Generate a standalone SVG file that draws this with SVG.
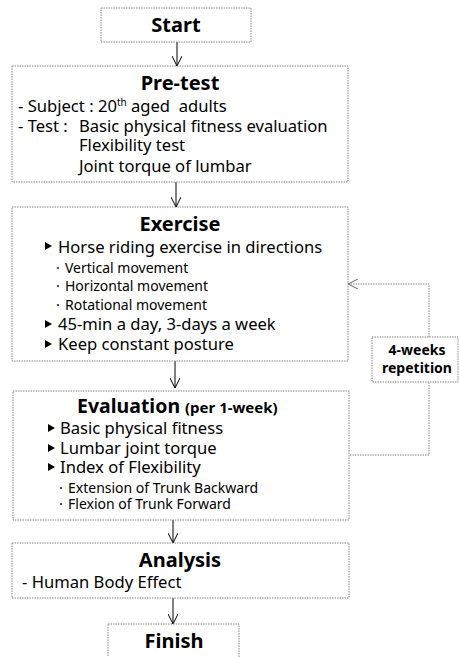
<svg xmlns="http://www.w3.org/2000/svg" width="459" height="657" viewBox="0 0 459 657">
<defs>
<style>
.box{fill:#fff;stroke:#8a8a8a;stroke-width:1;stroke-dasharray:1.5 1}
.t{font-family:"Noto Sans","Open Sans",sans-serif;font-weight:bold;font-size:20px;fill:#000;text-anchor:middle}
.b{font-family:"Noto Sans","Open Sans",sans-serif;font-size:16.6px;fill:#000}
.s{font-family:"Noto Sans","Open Sans",sans-serif;font-size:14px;fill:#000}
.c{fill:none;stroke:#000;stroke-width:1}
.d{fill:none;stroke:#8a8a8a;stroke-width:1;stroke-dasharray:1.5 1}
.tri{fill:#000}
</style>
<marker id="ah" viewBox="0 0 10 10" refX="10" refY="5" markerWidth="10" markerHeight="10" markerUnits="userSpaceOnUse" orient="auto">
<path d="M0,0 L10,5 L0,10" fill="none" stroke="#000" stroke-width="1"/>
</marker>
<marker id="ahg" viewBox="0 0 10 10" refX="10" refY="5" markerWidth="10" markerHeight="10" markerUnits="userSpaceOnUse" orient="auto">
<path d="M0,0 L10,5 L0,10" fill="none" stroke="#666" stroke-width="1"/>
</marker>
</defs>
<rect width="459" height="657" fill="#fff"/>
<g id="connectors">
<line class="c" x1="177" y1="42" x2="177" y2="66" marker-end="url(#ah)"/>
<line class="c" x1="176" y1="182" x2="176" y2="207" marker-end="url(#ah)"/>
<line class="c" x1="175" y1="361" x2="175" y2="388" marker-end="url(#ah)"/>
<line class="c" x1="173" y1="520" x2="173" y2="543" marker-end="url(#ah)"/>
<line class="c" x1="173" y1="598" x2="173" y2="624" marker-end="url(#ah)"/>
<polyline class="d" points="350,455 429,455 429,382"/>
<polyline class="d" points="429,337 429,284 348,284" marker-end="url(#ahg)"/>
</g>
<g id="start">
<rect class="box" x="101" y="8" width="150" height="34"/>
<text class="t" x="176" y="32">Start</text>
</g>
<g id="pretest">
<rect class="box" x="12" y="66" width="336" height="116"/>
<text class="t" x="180" y="90">Pre-test</text>
<text class="b" x="18" y="112">- Subject : 20<tspan font-size="10" dy="-6">th</tspan><tspan dy="6"> aged&#160; adults</tspan></text>
<text class="b" x="18" y="132">- Test : <tspan x="79">Basic physical fitness evaluation</tspan></text>
<text class="b" x="79" y="151">Flexibility test</text>
<text class="b" x="79" y="172">Joint torque of lumbar</text>
</g>
<g id="exercise">
<rect class="box" x="12" y="207" width="336" height="154"/>
<text class="t" x="180" y="231">Exercise</text>
<path class="tri" d="M45,242 L52,246 L45,250 Z"/>
<text class="b" x="58" y="253">Horse riding exercise in directions</text>
<text class="s" x="56" y="273">· <tspan x="65">Vertical movement</tspan></text>
<text class="s" x="56" y="291">· <tspan x="65">Horizontal movement</tspan></text>
<text class="s" x="56" y="310">· <tspan x="65">Rotational movement</tspan></text>
<path class="tri" d="M45,320 L52,324 L45,328 Z"/>
<text class="b" x="58" y="330">45-min a day, 3-days a week</text>
<path class="tri" d="M45,340 L52,344 L45,348 Z"/>
<text class="b" x="58" y="350">Keep constant posture</text>
</g>
<g id="evaluation">
<rect class="box" x="13" y="391" width="336" height="129"/>
<text class="t" x="77" y="413" style="text-anchor:start;font-size:19.5px">Evaluation <tspan x="185" font-size="15">(per 1-week)</tspan></text>
<path class="tri" d="M48,424 L55,428 L48,432 Z"/>
<text class="b" x="60" y="434">Basic physical fitness</text>
<path class="tri" d="M48,444 L55,448 L48,452 Z"/>
<text class="b" x="60" y="454">Lumbar joint torque</text>
<path class="tri" d="M48,463 L55,467 L48,471 Z"/>
<text class="b" x="60" y="473">Index of Flexibility</text>
<text class="s" x="59" y="493">· <tspan x="68">Extension of Trunk Backward</tspan></text>
<text class="s" x="59" y="509">· <tspan x="68">Flexion of Trunk Forward</tspan></text>
</g>
<g id="analysis">
<rect class="box" x="12" y="543" width="337" height="55"/>
<text class="t" x="180" y="567">Analysis</text>
<text class="b" x="22" y="588">- Human Body Effect</text>
</g>
<g id="finish">
<rect class="box" x="108" y="624" width="131" height="40"/>
<text class="t" x="174" y="648">Finish</text>
</g>
<g id="repetition">
<rect class="box" x="372" y="337" width="86" height="45"/>
<text class="t" x="417" y="355" style="font-size:14px">4-weeks</text>
<text class="t" x="417" y="373" style="font-size:14px">repetition</text>
</g>
</svg>
